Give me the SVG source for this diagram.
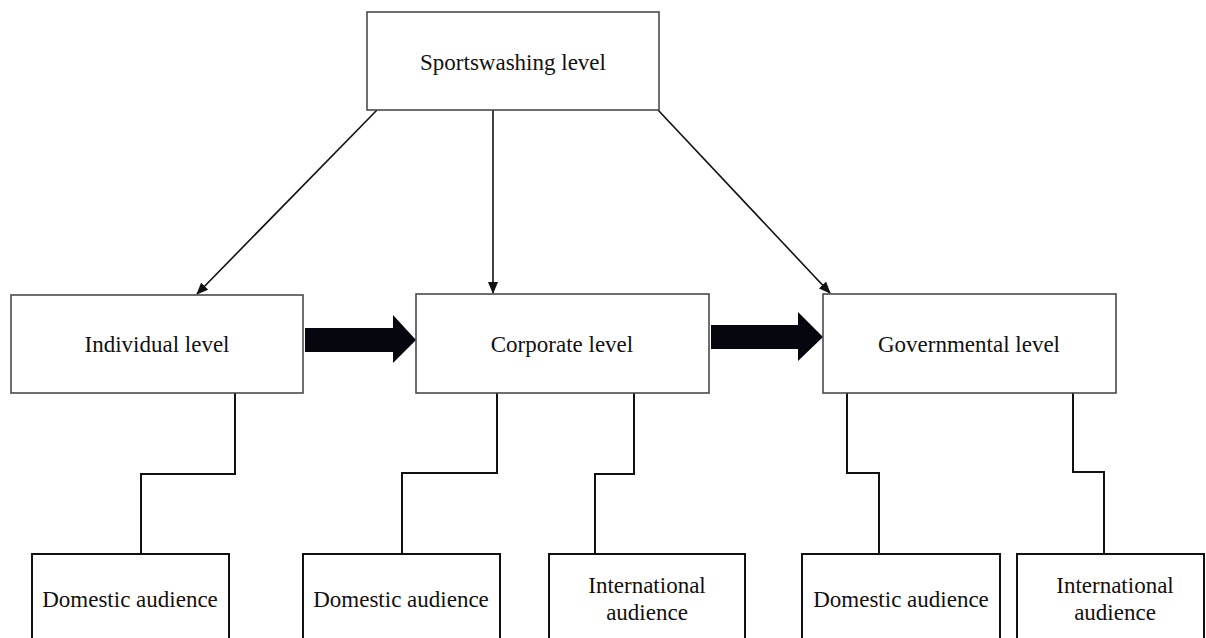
<svg xmlns="http://www.w3.org/2000/svg" width="1206" height="638" viewBox="0 0 1206 638">
<defs>
<style>
.lvl{fill:#fff;stroke:#4a4a4a;stroke-width:1.6}
.aud{fill:#fff;stroke:#111;stroke-width:2}
.t{font-family:"Liberation Serif","Times New Roman",serif;font-size:23px;fill:#111;text-anchor:middle}
.c{fill:none;stroke:#111;stroke-width:2}
.a{fill:none;stroke:#111;stroke-width:1.6;marker-end:url(#ah)}
.big{fill:#06060f}
</style>
<marker id="ah" markerUnits="userSpaceOnUse" markerWidth="12" markerHeight="10" viewBox="0 0 12 10" refX="11" refY="5" orient="auto">
<path d="M0,0 L12,5 L0,10 Z" fill="#111"/>
</marker>
</defs>
<rect width="1206" height="638" fill="#fff"/>

<g id="connectors">
<line class="a" x1="377" y1="110" x2="197" y2="294"/>
<line class="a" x1="493" y1="110" x2="493" y2="293"/>
<line class="a" x1="658" y1="110" x2="830" y2="293"/>
<polygon class="big" points="305,328 393,328 393,315 416,340 393,363 393,352 305,352"/>
<polygon class="big" points="711,325 798,325 798,312 823,337 798,361 798,349 711,349"/>
<polyline class="c" points="235,393 235,474 141,474 141,554"/>
<polyline class="c" points="497,393 497,473 402,473 402,554"/>
<polyline class="c" points="634,393 634,474 595,474 595,554"/>
<polyline class="c" points="847,393 847,473 879,473 879,554"/>
<polyline class="c" points="1073,393 1073,472 1104,472 1104,554"/>
</g>

<g id="sportswashing">
<rect class="lvl" x="367" y="12" width="292" height="98"/>
<text class="t" x="513" y="70">Sportswashing level</text>
</g>
<g id="individual">
<rect class="lvl" x="11" y="295" width="292" height="98"/>
<text class="t" x="157" y="352">Individual level</text>
</g>
<g id="corporate">
<rect class="lvl" x="416" y="294" width="293" height="99"/>
<text class="t" x="562" y="352">Corporate level</text>
</g>
<g id="governmental">
<rect class="lvl" x="823" y="294" width="293" height="99"/>
<text class="t" x="969" y="352">Governmental level</text>
</g>

<g id="domestic1">
<rect class="aud" x="32" y="554" width="197" height="100"/>
<text class="t" x="130" y="607">Domestic audience</text>
</g>
<g id="domestic2">
<rect class="aud" x="303" y="554" width="197" height="100"/>
<text class="t" x="401" y="607">Domestic audience</text>
</g>
<g id="international1">
<rect class="aud" x="549" y="554" width="196" height="100"/>
<text class="t" x="647" y="593">International</text>
<text class="t" x="647" y="620">audience</text>
</g>
<g id="domestic3">
<rect class="aud" x="802" y="554" width="198" height="100"/>
<text class="t" x="901" y="607">Domestic audience</text>
</g>
<g id="international2">
<rect class="aud" x="1017" y="554" width="187" height="100"/>
<text class="t" x="1115" y="593">International</text>
<text class="t" x="1115" y="620">audience</text>
</g>
</svg>
